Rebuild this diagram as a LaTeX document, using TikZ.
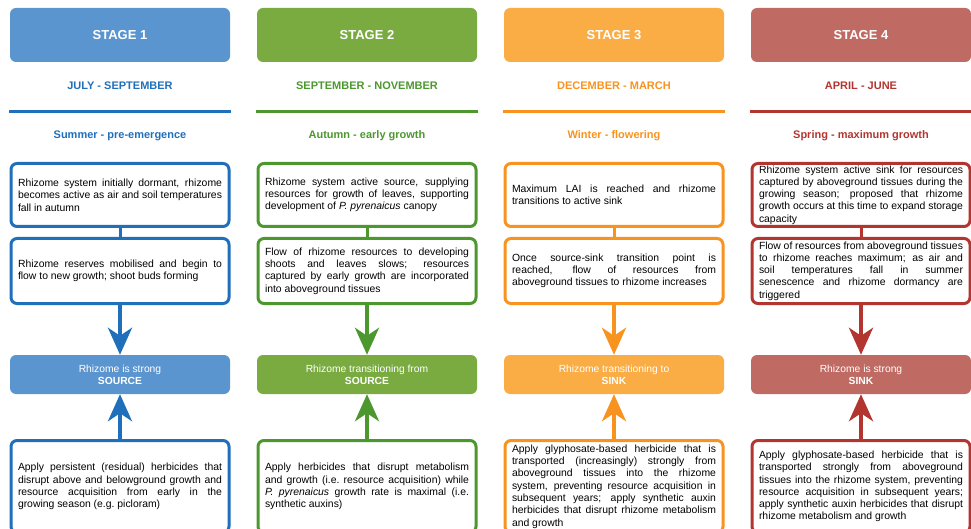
\documentclass[tikz,border=0pt]{standalone}
\usepackage{fontspec}
\setmainfont{Liberation Sans}
\usetikzlibrary{arrows.meta}

\definecolor{blueA}{HTML}{5B95CF}
\definecolor{blueB}{HTML}{1F6FBA}
\definecolor{greenA}{HTML}{7AAB41}
\definecolor{greenB}{HTML}{4C982F}
\definecolor{orangeA}{HTML}{FAAD45}
\definecolor{orangeB}{HTML}{F7931E}
\definecolor{redA}{HTML}{C06A64}
\definecolor{redB}{HTML}{B2352F}

\tikzset{
  stagebox/.style={fill=#1, rounded corners=6pt, minimum width=220pt, minimum height=54pt,
    text=white, font=\fontsize{13}{15}\selectfont\bfseries},
  months/.style={text=#1, font=\fontsize{11}{13}\selectfont\bfseries},
  stepbox/.style={draw=#1, line width=3pt, rounded corners=6pt, fill=white, text width=204pt,
    inner xsep=7pt, inner ysep=0pt, align=justify, text=black,
    font=\fontsize{10.4}{12.3}\selectfont},
  statebox/.style={fill=#1, rounded corners=6pt, minimum width=220pt, minimum height=39pt,
    text=white, align=center, font=\fontsize{10.3}{12}\selectfont},
  link/.style={draw=#1, line width=3pt},
  flow/.style={draw=#1, line width=4pt, -{Stealth[length=27pt,width=24pt,inset=8pt]}},
}

\begin{document}
\begin{tikzpicture}[x=1pt, y=-1pt]

            \useasboundingbox (0, 0) rectangle (971, 529);
            \clip (0, 0) rectangle (971, 529);

            \node (1-1) at (120, 35) [stagebox=blueA] {STAGE 1};
            \node (1-2) at (367, 35) [stagebox=greenA] {STAGE 2};
            \node (1-3) at (614, 35) [stagebox=orangeA] {STAGE 3};
            \node (1-4) at (861, 35) [stagebox=redA] {STAGE 4};

            \node (2-1) at (120, 86) [months=blueB] {JULY - SEPTEMBER};
            \node (2-2) at (367, 86) [months=greenB] {SEPTEMBER - NOVEMBER};
            \node (2-3) at (614, 86) [months=orangeB] {DECEMBER - MARCH};
            \node (2-4) at (861, 86) [months=redB] {APRIL - JUNE};

            \draw[blueB, line width=3pt] (9, 112) -- (231, 112);
            \draw[greenB, line width=3pt] (256, 112) -- (478, 112);
            \draw[orangeB, line width=3pt] (503, 112) -- (725, 112);
            \draw[redB, line width=3pt] (750, 112) -- (972, 112);

            \node (3-1) at (120, 136) [months=blueB] {Summer - pre-emergence};
            \node (3-2) at (367, 136) [months=greenB] {Autumn - early growth};
            \node (3-3) at (614, 136) [months=orangeB] {Winter - flowering};
            \node (3-4) at (861, 136) [months=redB] {Spring - maximum growth};

            \node (4-1) at (120, 195) [stepbox=blueB, minimum height=63pt] {Rhizome system initially dormant, rhizome\linebreak becomes active as air and soil temperatures\linebreak fall in autumn};
            \node (4-2) at (367, 195) [stepbox=greenB, minimum height=63pt] {Rhizome system active source, supplying\linebreak resources for growth of leaves, supporting\linebreak development of \textit{P. pyrenaicus} canopy};
            \node (4-3) at (614, 195) [stepbox=orangeB, minimum height=63pt] {Maximum LAI is reached and rhizome\linebreak transitions to active sink};
            \node (4-4) at (861, 195) [stepbox=redB, minimum height=63pt] {Rhizome system active sink for resources\linebreak captured by aboveground tissues during the\linebreak growing season; proposed that rhizome\linebreak growth occurs at this time to expand storage\linebreak capacity};

            \node (5-1) at (120, 271) [stepbox=blueB, minimum height=65pt] {Rhizome reserves mobilised and begin to\linebreak flow to new growth; shoot buds forming};
            \node (5-2) at (367, 271) [stepbox=greenB, minimum height=65pt] {Flow of rhizome resources to developing\linebreak shoots and leaves slows; resources\linebreak captured by early growth are incorporated\linebreak into aboveground tissues};
            \node (5-3) at (614, 271) [stepbox=orangeB, minimum height=65pt] {Once source-sink transition point is\linebreak reached, flow of resources from\linebreak aboveground tissues to rhizome increases};
            \node (5-4) at (861, 271) [stepbox=redB, minimum height=65pt] {Flow of resources from aboveground tissues\linebreak to rhizome reaches maximum; as air and\linebreak soil temperatures fall in summer\linebreak senescence and rhizome dormancy are\linebreak triggered};

            \node (6-1) at (120, 374.5) [statebox=blueA] {Rhizome is strong\\\textbf{SOURCE}};
            \node (6-2) at (367, 374.5) [statebox=greenA] {Rhizome transitioning from\\\textbf{SOURCE}};
            \node (6-3) at (614, 374.5) [statebox=orangeA] {Rhizome transitioning to\\\textbf{SINK}};
            \node (6-4) at (861, 374.5) [statebox=redA] {Rhizome is strong\\\textbf{SINK}};

            \node (7-1) at (120, 486.5) [stepbox=blueB, minimum height=92pt] {Apply persistent (residual) herbicides that\linebreak disrupt above and belowground growth and\linebreak resource acquisition from early in the\linebreak growing season (e.g.\ picloram)};
            \node (7-2) at (367, 486.5) [stepbox=greenB, minimum height=92pt] {Apply herbicides that disrupt metabolism\linebreak and growth (i.e.\ resource acquisition) while\linebreak \textit{P. pyrenaicus} growth rate is maximal (i.e.\linebreak synthetic auxins)};
            \node (7-3) at (614, 486.5) [stepbox=orangeB, minimum height=92pt] {Apply glyphosate-based herbicide that is\linebreak transported (increasingly) strongly from\linebreak aboveground tissues into the rhizome\linebreak system, preventing resource acquisition in\linebreak subsequent years; apply synthetic auxin\linebreak herbicides that disrupt rhizome metabolism\linebreak and growth};
            \node (7-4) at (861, 486.5) [stepbox=redB, minimum height=92pt] {Apply glyphosate-based herbicide that is\linebreak transported strongly from aboveground\linebreak tissues into the rhizome system, preventing\linebreak resource acquisition in subsequent years;\linebreak apply synthetic auxin herbicides that disrupt\linebreak rhizome metabolism and growth};

            \draw[link=blueB] (4-1) -- (5-1);
            \draw[link=greenB] (4-2) -- (5-2);
            \draw[link=orangeB] (4-3) -- (5-3);
            \draw[link=redB] (4-4) -- (5-4);

            \draw[flow=blueB] (5-1) -- (6-1);
            \draw[flow=greenB] (5-2) -- (6-2);
            \draw[flow=orangeB] (5-3) -- (6-3);
            \draw[flow=redB] (5-4) -- (6-4);

            \draw[flow=blueB] (7-1) -- (6-1);
            \draw[flow=greenB] (7-2) -- (6-2);
            \draw[flow=orangeB] (7-3) -- (6-3);
            \draw[flow=redB] (7-4) -- (6-4);

\end{tikzpicture}
\end{document}
